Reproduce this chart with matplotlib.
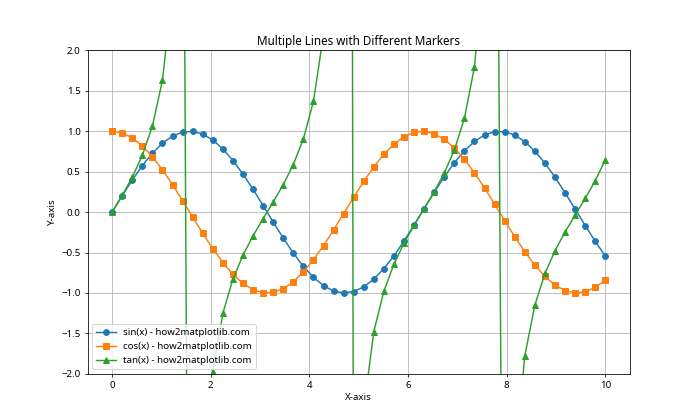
import matplotlib
matplotlib.use("Agg")
import matplotlib.pyplot as plt

plt.rcParams['font.family'] = ['Noto Sans', 'DejaVu Sans']

x = [0.0, 0.2041, 0.4082, 0.6122, 0.8163, 1.0204, 1.2245, 1.4286, 1.6327, 1.8367,
     2.0408, 2.2449, 2.4490, 2.6531, 2.8571, 3.0612, 3.2653, 3.4694, 3.6735, 3.8776,
     4.0816, 4.2857, 4.4898, 4.6939, 4.8980, 5.1020, 5.3061, 5.5102, 5.7143, 5.9184,
     6.1224, 6.3265, 6.5306, 6.7347, 6.9388, 7.1429, 7.3469, 7.5510, 7.7551, 7.9592,
     8.1633, 8.3673, 8.5714, 8.7755, 8.9796, 9.1837, 9.3878, 9.5918, 9.7959, 10.0]

sin_vals = [0.0, 0.2027, 0.3969, 0.5747, 0.7286, 0.8525, 0.9406, 0.9899, 0.9981, 0.9648,
            0.8918, 0.7814, 0.6382, 0.4697, 0.2808, 0.0803, -0.1234, -0.3220, -0.5072, -0.6717,
            -0.8076, -0.9103, -0.9753, -0.9999, -0.9826, -0.9249, -0.8281, -0.6985, -0.5408, -0.3570,
            -0.1602, 0.0433, 0.2449, 0.4364, 0.6096, 0.7577, 0.8741, 0.9546, 0.9951, 0.9943,
            0.9525, 0.8714, 0.7543, 0.6047, 0.4314, 0.2386, 0.0370, -0.1662, -0.3626, -0.5440]

cos_vals = [1.0, 0.9792, 0.9178, 0.8184, 0.6849, 0.5227, 0.3396, 0.1417, -0.0619, -0.2627,
            -0.4522, -0.6240, -0.7699, -0.8828, -0.9598, -0.9968, -0.9924, -0.9468, -0.8618, -0.7410,
            -0.5897, -0.4139, -0.2210, -0.0185, 0.1849, 0.3802, 0.5606, 0.7156, 0.8411, 0.9341,
            0.9871, 0.9991, 0.9695, 0.8998, 0.7927, 0.6526, 0.4858, 0.2980, 0.0988, -0.1054,
            -0.3046, -0.4908, -0.6565, -0.7965, -0.9022, -0.9711, -0.9993, -0.9861, -0.9319, -0.8391]

tan_vals = [0.0, 0.2070, 0.4324, 0.7022, 1.0638, 1.6310, 2.770, 6.986, -16.12, -3.673,
            -1.972, -1.252, -0.8289, -0.5321, -0.2926, -0.0806, 0.1243, 0.3401, 0.5885, 0.9065,
            1.3695, 2.1994, 4.413, 54.0, -5.314, -2.433, -1.477, -0.9761, -0.6430, -0.3822,
            -0.1623, 0.0433, 0.2526, 0.4850, 0.7690, 1.1611, 1.7993, 3.203, 10.07, -9.43,
            -3.127, -1.775, -1.149, -0.7592, -0.4782, -0.2457, -0.0370, 0.1685, 0.3891, 0.6484]

labels = ['sin(x) - how2matplotlib.com', 'cos(x) - how2matplotlib.com', 'tan(x) - how2matplotlib.com']

fig, ax = plt.subplots(figsize=(10, 6), dpi=70)
ax.plot(x, sin_vals, marker='o', label=labels[0])
ax.plot(x, cos_vals, marker='s', label=labels[1])
ax.plot(x, tan_vals, marker='^', label=labels[2])
ax.set_ylim(-2, 2)
ax.set_title('Multiple Lines with Different Markers')
ax.set_xlabel('X-axis')
ax.set_ylabel('Y-axis')
ax.legend(loc='lower left')
ax.grid(True)
fig.savefig('out.png', dpi=70)
